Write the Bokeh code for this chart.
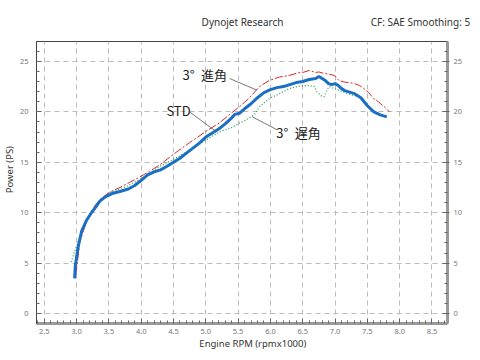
from bokeh.plotting import figure
from bokeh.models import (Range1d, LinearAxis, SingleIntervalTicker, FixedTicker, Label,
                          PrintfTickFormatter, CustomJSTickFormatter)
from bokeh.embed import file_html
from bokeh.resources import INLINE

# ---- data (rpm x1000, power PS) ----
std_rpm = [2.97, 2.98, 3.0, 3.03, 3.08, 3.15, 3.22, 3.29, 3.36, 3.45, 3.55, 3.67, 3.8, 3.9, 4.0,
           4.1, 4.2, 4.3, 4.4, 4.5, 4.6, 4.7, 4.8, 4.9, 5.0, 5.1, 5.2, 5.3, 5.4, 5.45, 5.52, 5.6,
           5.7, 5.8, 5.9, 6.0, 6.1, 6.2, 6.3, 6.4, 6.5, 6.6, 6.7, 6.75, 6.8, 6.85, 6.9, 6.95, 7.0,
           7.05, 7.1, 7.15, 7.2, 7.25, 7.3, 7.35, 7.4, 7.5, 7.6, 7.7, 7.8]
std_pwr = [3.5, 4.7, 5.6, 6.8, 8.2, 9.2, 9.9, 10.5, 11.15, 11.6, 11.9, 12.1, 12.35, 12.7, 13.2,
           13.75, 14.05, 14.25, 14.6, 15.0, 15.4, 15.9, 16.4, 16.9, 17.5, 17.9, 18.3, 18.8, 19.4,
           19.75, 19.85, 20.3, 20.8, 21.4, 21.9, 22.2, 22.4, 22.5, 22.7, 22.9, 23.0, 23.2, 23.3,
           23.5, 23.3, 23.1, 22.8, 22.7, 22.8, 22.6, 22.3, 22.1, 22.0, 21.9, 21.8, 21.6, 21.4,
           20.6, 20.0, 19.7, 19.5]

adv_rpm = [2.99, 3.02, 3.05, 3.1, 3.15, 3.2, 3.26, 3.36, 3.5, 3.67, 3.82, 3.98, 4.13, 4.29, 4.49,
           4.75, 5.0, 5.21, 5.42, 5.52, 5.67, 5.83, 5.98, 6.14, 6.29, 6.42, 6.5, 6.6, 6.7, 6.75,
           6.83, 6.9, 6.99, 7.06, 7.14, 7.22, 7.3, 7.38, 7.45, 7.52, 7.6, 7.67, 7.73, 7.78, 7.84]
adv_pwr = [3.9, 5.5, 7.05, 8.1, 9.0, 9.8, 10.5, 11.3, 12.0, 12.5, 13.0, 13.55, 14.1, 14.75, 15.75,
           16.95, 18.05, 18.9, 20.0, 20.5, 21.35, 22.5, 23.1, 23.45, 23.6, 23.85, 23.9, 24.1, 23.9,
           23.95, 23.8, 23.75, 23.6, 23.1, 22.95, 22.9, 22.8, 22.6, 22.3, 21.9, 21.3, 21.0, 20.65,
           20.4, 20.0]

ret_rpm = [2.92, 2.96, 3.0, 3.08, 3.2, 3.31, 3.51, 3.77, 3.98, 4.18, 4.29, 4.49, 4.75, 5.0, 5.21,
           5.42, 5.52, 5.6, 5.67, 5.75, 5.83, 5.98, 6.14, 6.29, 6.45, 6.6, 6.68, 6.72, 6.78, 6.83,
           6.88, 6.91, 6.99, 7.11, 7.27, 7.37, 7.42]
ret_pwr = [5.1, 6.0, 6.7, 8.0, 9.7, 10.7, 12.0, 12.6, 13.3, 14.1, 14.6, 15.25, 16.2, 17.2, 18.0,
           18.5, 18.9, 19.1, 19.4, 19.7, 20.5, 21.3, 21.8, 22.3, 22.55, 22.6, 22.5, 22.0, 21.6,
           21.5, 22.2, 22.5, 22.3, 22.0, 21.65, 21.5, 21.3]

title_text = "Dynojet Research"
cf_text = "CF: SAE Smoothing: 5"
x_title = "Engine RPM (rpmx1000)"
y_title = "Power (PS)"
labels = ["3°\u2002進角", "STD", "3°\u2002遅角"]
label_pos = [(4.64, 23.7), (4.39, 20.1), (6.09, 18.0)]
leaders = [((5.37, 5.79), (23.3, 22.15)), ((4.75, 5.15), (19.98, 18.1)), ((5.72, 6.11), (19.5, 18.2))]

LAT = "Noto Sans"
CJK = "Noto Sans CJK JP"

p = figure(width=472, height=352, output_backend="svg", toolbar_location=None,
           x_range=Range1d(2.38, 8.74), y_range=Range1d(-0.98, 26.97),
           min_border_left=35, min_border_right=25, min_border_top=41, min_border_bottom=27,
           background_fill_color="white", border_fill_color="white")
p.outline_line_color = "#444444"
p.outline_line_width = 1

xt = SingleIntervalTicker(interval=0.5, num_minor_ticks=5)
yt = SingleIntervalTicker(interval=5, num_minor_ticks=5)
p.xaxis.ticker = xt
p.yaxis.ticker = yt
p.xaxis.formatter = PrintfTickFormatter(format="%.1f")
p.xgrid.ticker = xt
p.ygrid.ticker = yt

ry = LinearAxis(ticker=yt)
p.add_layout(ry, "right")

for ax in [p.xaxis[0], p.yaxis[0], ry]:
    ax.major_tick_in = 5
    ax.major_tick_out = 0
    ax.minor_tick_in = 3
    ax.minor_tick_out = 0
    ax.major_tick_line_color = "#666666"
    ax.minor_tick_line_color = "#666666"
    ax.major_label_text_font = LAT
    ax.major_label_text_font_size = "7.5px"
    ax.major_label_text_color = "#777777"
    ax.axis_line_color = "#444444"

ry.major_tick_out = 2
p.yaxis[0].major_label_standoff = 8
ry.major_label_standoff = 4
p.xaxis[0].major_label_standoff = 5
for ax in [p.xaxis[0], ry]:
    ax.axis_line_color = "#999999"
    ax.axis_line_width = 3


def text_axis(ticks, fmt_args, code, standoff, size, orient="horizontal"):
    ax = LinearAxis(ticker=FixedTicker(ticks=ticks, minor_ticks=[]),
                    formatter=CustomJSTickFormatter(args=fmt_args, code=code))
    ax.axis_line_color = None
    ax.major_tick_line_color = None
    ax.minor_tick_line_color = None
    ax.major_tick_in = 0
    ax.major_tick_out = 0
    ax.major_label_standoff = standoff
    ax.major_label_text_font = LAT
    ax.major_label_text_font_size = size
    ax.major_label_text_color = "#333333"
    ax.major_label_orientation = orient
    return ax


# header texts placed on a top axis
top = text_axis([5.568, 8.321], dict(a=title_text, b=cf_text),
                "return tick < 7 ? a : b;", 13, "10px")
p.add_layout(top, "above")
# axis titles
bx = text_axis([5.728], dict(a=x_title), "return a;", 0, "9.5px")
p.add_layout(bx, "below")
ly = text_axis([14.27], dict(a=y_title), "return a;", 0, "9.5px", "parallel")
p.add_layout(ly, "left")

for g in [p.xgrid[0], p.ygrid[0]]:
    g.grid_line_color = "#bbbbbb"
    g.grid_line_dash = "5 4"
    g.grid_line_width = 1

p.line(ret_rpm, ret_pwr, line_color="#2e9e55", line_width=1.3, line_dash="1 2")
p.line(adv_rpm, adv_pwr, line_color="#d42a2a", line_width=1, line_dash="8 2 2 2")
p.line(std_rpm, std_pwr, line_color="#1a6fc4", line_width=3)

for (xs, ys) in leaders:
    p.line(list(xs), list(ys), line_color="#555555", line_width=0.8)

for t, (lx, ly_) in zip(labels, label_pos):
    p.add_layout(Label(x=lx, y=ly_, text=t, text_font=CJK, text_font_size="13px",
                       text_color="#222222", text_baseline="middle", text_align="left"))

open("out.html", "w").write(file_html(p, INLINE))
